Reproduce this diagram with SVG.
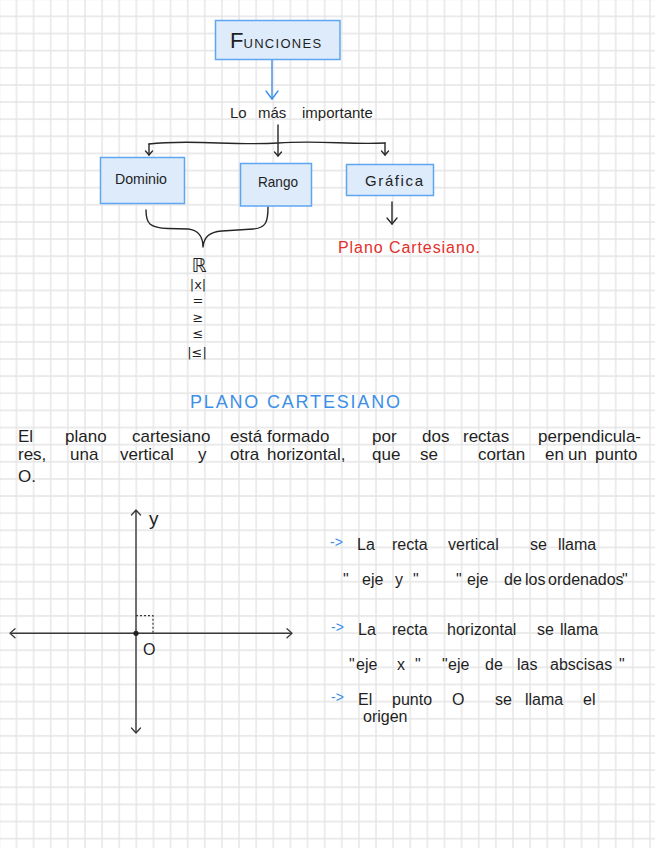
<svg xmlns="http://www.w3.org/2000/svg" width="655" height="848" viewBox="0 0 655 848">
<style>
text{font-family:"Liberation Sans","DejaVu Sans",sans-serif;fill:#1f1f1f}
.box{fill:#deebfb;stroke:#5ea6f2;stroke-width:1.5}
.blk{fill:none;stroke:#262626;stroke-width:1.4;stroke-linecap:round;stroke-linejoin:round}
.blue{fill:none;stroke:#3c8fe8;stroke-width:1.4;stroke-linecap:round}
.ttl{fill:#3c8fe8}
.red{fill:#e3302c}
.bl{fill:#3c8fe8}
.axis{fill:none;stroke:#3a3a3a;stroke-width:1.4}
.sym{font-family:"DejaVu Sans","Liberation Sans",sans-serif;text-anchor:middle}
</style>
<defs>
<pattern id="grid" x="7.94" y="7.835" width="17.12" height="17.13" patternUnits="userSpaceOnUse">
<path d="M0 8.565H17.12M8.56 0V17.13" stroke="#e4e4e4" stroke-width="1.3" fill="none"/>
</pattern>
<marker id="mBlue" viewBox="0 0 8 12" refX="8" refY="6" markerWidth="8" markerHeight="12" markerUnits="userSpaceOnUse" orient="auto" overflow="visible">
<path d="M0,0 L8,6 L0,12" fill="none" stroke="#3c8fe8" stroke-width="1.4" stroke-linecap="round" stroke-linejoin="round"/>
</marker>
<marker id="mSmall" viewBox="0 0 4 7" refX="4" refY="3.5" markerWidth="4" markerHeight="7" markerUnits="userSpaceOnUse" orient="auto" overflow="visible">
<path d="M0,0 L4,3.5 L0,7" fill="none" stroke="#262626" stroke-width="1.3" stroke-linecap="round" stroke-linejoin="round"/>
</marker>
<marker id="mMed" viewBox="0 0 6 10" refX="6" refY="5" markerWidth="6" markerHeight="10" markerUnits="userSpaceOnUse" orient="auto" overflow="visible">
<path d="M0,0 L6,5 L0,10" fill="none" stroke="#262626" stroke-width="1.3" stroke-linecap="round" stroke-linejoin="round"/>
</marker>
<marker id="mAxis" viewBox="0 0 5 9" refX="5" refY="4.5" markerWidth="5" markerHeight="9" markerUnits="userSpaceOnUse" orient="auto-start-reverse" overflow="visible">
<path d="M0,0 L5,4.5 L0,9" fill="none" stroke="#3a3a3a" stroke-width="1.3" stroke-linecap="round" stroke-linejoin="round"/>
</marker>
</defs>
<rect width="655" height="848" fill="#ffffff"/>
<rect width="655" height="848" fill="url(#grid)"/>

<g id="connectors">
<path class="blue" d="M272,59 V99" marker-end="url(#mBlue)"/>
<path class="blk" d="M278,125 V142" stroke-width="2.6"/>
<path class="blk" d="M149,144 C190,139 235,146 278,143 C320,140 350,145 385,143"/>
<path class="blk" d="M149,144 V155" marker-end="url(#mSmall)"/>
<path class="blk" d="M278,143 V156" marker-end="url(#mSmall)"/>
<path class="blk" d="M385,143 V155" marker-end="url(#mSmall)"/>
<path class="blk" d="M146,210 C146,224 150,228 168,228.5 L188,229 C199,230 203,238 203,247 C204,238 208,232 222,231 L253,229 C266,228 268,222 268,207"/>
<path class="blk" d="M392,202 V224" marker-end="url(#mMed)"/>
</g>

<g id="funciones">
<rect class="box" x="215.5" y="20.5" width="124.5" height="39"/>
<text x="230" y="48"><tspan font-size="22">F</tspan><tspan font-size="13" letter-spacing="1.3">UNCIONES</tspan></text>
</g>

<g id="lo-mas-importante">
<text y="118" font-size="15"><tspan x="230">Lo</tspan><tspan x="258">más</tspan><tspan x="302">importante</tspan></text>
</g>

<g id="dominio">
<rect class="box" x="100.5" y="157.5" width="84" height="46"/>
<text x="115" y="184" font-size="15" textLength="52" lengthAdjust="spacingAndGlyphs">Dominio</text>
</g>

<g id="rango">
<rect class="box" x="240.5" y="163.5" width="71" height="42.5"/>
<text x="258" y="187" font-size="15" textLength="40" lengthAdjust="spacingAndGlyphs">Rango</text>
</g>

<g id="grafica">
<rect class="box" x="346.5" y="164.5" width="87" height="31"/>
<text x="365" y="186" font-size="15" textLength="58" lengthAdjust="spacing">Gráfica</text>
</g>

<g id="plano-cartesiano-red">
<text class="red" x="338" y="253" font-size="16" textLength="142" lengthAdjust="spacing">Plano Cartesiano.</text>
</g>

<g id="simbolos">
<text class="sym" x="199" y="272" font-size="19">ℝ</text>
<text class="sym" x="198" y="289" font-size="13">|x|</text>
<text class="sym" x="198" y="305" font-size="13">=</text>
<text class="sym" x="198" y="322" font-size="13">≥</text>
<text class="sym" x="198" y="338" font-size="13">≤</text>
<text class="sym" x="197" y="357" font-size="13">|≤|</text>
</g>

<g id="titulo">
<text class="ttl" x="190" y="408" font-size="18" textLength="210" lengthAdjust="spacing">PLANO CARTESIANO</text>
</g>

<g id="parrafo" font-size="17">
<text y="442"><tspan x="18">El</tspan><tspan x="65">plano</tspan><tspan x="132">cartesiano</tspan><tspan x="230">está</tspan><tspan x="267">formado</tspan><tspan x="372">por</tspan><tspan x="422">dos</tspan><tspan x="463">rectas</tspan><tspan x="538">perpendicula-</tspan></text>
<text y="460"><tspan x="18">res,</tspan><tspan x="70">una</tspan><tspan x="120">vertical</tspan><tspan x="198">y</tspan><tspan x="230">otra</tspan><tspan x="267">horizontal,</tspan><tspan x="372">que</tspan><tspan x="420">se</tspan><tspan x="478">cortan</tspan><tspan x="545">en</tspan><tspan x="568">un</tspan><tspan x="595">punto</tspan></text>
<text y="482"><tspan x="18">O.</tspan></text>
</g>

<g id="plano">
<path class="axis" d="M136,510 V733" marker-start="url(#mAxis)" marker-end="url(#mAxis)"/>
<path class="axis" d="M10,633.3 H292" marker-start="url(#mAxis)" marker-end="url(#mAxis)"/>
<path d="M136,615.7 H153 V633" fill="none" stroke="#3a3a3a" stroke-width="1.2" stroke-dasharray="2,2"/>
<circle cx="136" cy="633.3" r="2.6" fill="#222"/>
<text x="149" y="525" font-size="19">y</text>
<text x="143" y="655" font-size="16">O</text>
</g>

<g id="notas" font-size="16">
<text class="bl" x="330" y="547" font-size="14">-&gt;</text>
<text y="550"><tspan x="357">La</tspan><tspan x="392">recta</tspan><tspan x="448">vertical</tspan><tspan x="530">se</tspan><tspan x="558">llama</tspan></text>
<text y="585"><tspan x="343">"</tspan><tspan x="362">eje</tspan><tspan x="395">y</tspan><tspan x="413">"</tspan><tspan x="456">"</tspan><tspan x="467">eje</tspan><tspan x="504">de</tspan><tspan x="525">los</tspan><tspan x="548">ordenados</tspan><tspan x="622">"</tspan></text>
<text class="bl" x="331" y="632" font-size="14">-&gt;</text>
<text y="635"><tspan x="358">La</tspan><tspan x="392">recta</tspan><tspan x="447">horizontal</tspan><tspan x="537">se</tspan><tspan x="560">llama</tspan></text>
<text y="670"><tspan x="349">"</tspan><tspan x="356">eje</tspan><tspan x="397">x</tspan><tspan x="415">"</tspan><tspan x="442">"</tspan><tspan x="448">eje</tspan><tspan x="485">de</tspan><tspan x="517">las</tspan><tspan x="550">abscisas</tspan><tspan x="619">"</tspan></text>
<text class="bl" x="331" y="702" font-size="14">-&gt;</text>
<text y="705"><tspan x="358">El</tspan><tspan x="392">punto</tspan><tspan x="452">O</tspan><tspan x="495">se</tspan><tspan x="525">llama</tspan><tspan x="583">el</tspan></text>
<text y="722"><tspan x="363">origen</tspan></text>
</g>
</svg>
